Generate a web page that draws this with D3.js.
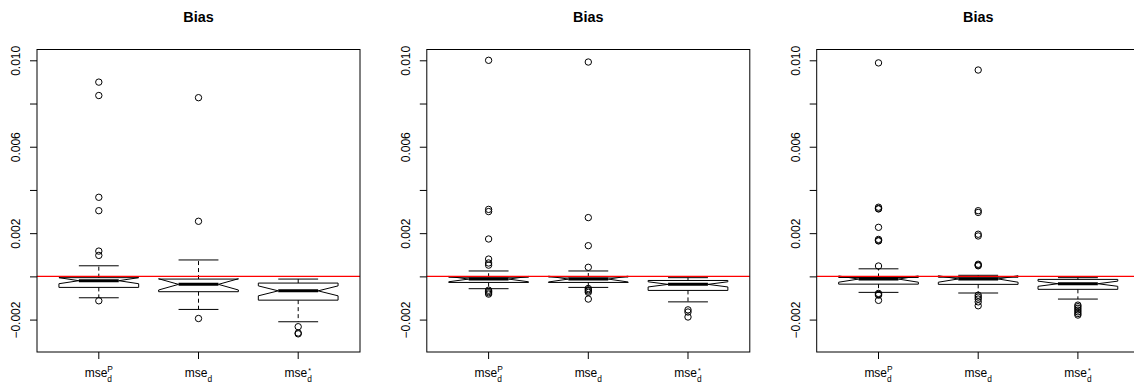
<!DOCTYPE html>
<html>
<head>
<meta charset="utf-8">
<script src="https://cdn.jsdelivr.net/npm/d3@7"></script>
<style>
  body { margin: 0; background: #fff; }
  text { font-family: "Liberation Sans", Arial, sans-serif; }
</style>
</head>
<body>
<script>
// three panels, each with three notched boxplots
const panelTitles = ["Bias", "Bias", "Bias"];
const groups = ["P", "", "*"]; // superscript of mse_d

const whiskerLow = [
  [-0.00099, -0.00153, -0.00210],
  [-0.00057, -0.00051, -0.00118],
  [-0.00074, -0.00077, -0.00105]
];
const q1 = [
  [-0.00051, -0.00071, -0.00110],
  [-0.00028, -0.00028, -0.00065],
  [-0.00036, -0.00037, -0.00060]
];
const median = [
  [-0.00020, -0.00037, -0.00067],
  [-0.000125, -0.000125, -0.00037],
  [-0.000125, -0.00012, -0.00034]
];
const q3 = [
  [-0.00006, -0.000125, -0.00031],
  [-0.00004, -0.00003, -0.00019],
  [-0.00005, -0.00004, -0.00014]
];
const whiskerHigh = [
  [0.00049, 0.00076, -0.000125],
  [0.00025, 0.00025, -0.00006],
  [0.00035, 0.00005, -0.00006]
];
const notchLow = [
  [-0.00034, -0.00063, -0.00090],
  [-0.00025, -0.00026, -0.00049],
  [-0.00027, -0.00027, -0.00046]
];
const notchHigh = [
  [-0.00006, -0.00011, -0.00044],
  [0.00000, 0.00001, -0.00025],
  [0.00002, 0.00003, -0.00022]
];
const outliers = [
  [
    [0.00899, 0.00837, 0.00366, 0.00304, 0.00117, 0.00097, -0.00113],
    [0.00827, 0.00255, -0.00195],
    [-0.00233, -0.00262, -0.00266]
  ],
  [
    [0.01000, 0.00310, 0.00300, 0.00173, 0.00080, 0.00062, 0.00052, -0.00064, -0.00070, -0.00076, -0.00082],
    [0.00992, 0.00272, 0.00142, 0.00042, -0.00056, -0.00062, -0.00068, -0.00074, -0.00105],
    [-0.00155, -0.00165, -0.00188]
  ],
  [
    [0.00988, 0.00320, 0.00314, 0.00312, 0.00227, 0.00171, 0.00166, 0.00164, 0.00048, -0.00079, -0.00083, -0.00087, -0.00111],
    [0.00955, 0.00304, 0.00296, 0.00195, 0.00187, 0.00056, 0.00052, 0.00049, -0.00087, -0.00096, -0.00105, -0.00118, -0.00136],
    [-0.00133, -0.00140, -0.00148, -0.00156, -0.00164, -0.00172, -0.00179]
  ]
];
const yTicks = [-0.002, 0, 0.002, 0.004, 0.006, 0.008, 0.010];
const yLabels = {"-0.002": "\u22120.002", "0.002": "0.002", "0.006": "0.006", "0.01": "0.010"};

const width = 1134, height = 385;
const plotTop = 49.5, plotBottom = 352, plotW = 323;
const panelLeft = [37, 426.8, 816.7];

const svg = d3.select("body").append("svg")
  .attr("width", width).attr("height", height);
svg.append("rect").attr("width", width).attr("height", height).attr("fill", "#fff");

const y = d3.scaleLinear().domain([-0.0035, 0.0105]).range([plotBottom, plotTop]);

panelTitles.forEach((title, p) => {
  const x0 = panelLeft[p];
  const x = d3.scaleLinear().domain([0.38, 3.62]).range([x0, x0 + plotW]);
  const halfW = x(1.4) - x(1);   // boxwex 0.8
  const notchW = halfW / 2;
  const g = svg.append("g");

  // title
  g.append("text")
    .attr("x", x(2)).attr("y", 21.5)
    .attr("text-anchor", "middle")
    .attr("font-weight", "bold").attr("font-size", "14.4px")
    .text(title);

  // y axis
  const yAxis = g.append("g")
    .attr("transform", `translate(${x0},0)`)
    .call(d3.axisLeft(y).tickValues(yTicks).tickSize(7).tickSizeOuter(0)
      .tickFormat(d => yLabels[String(+d.toFixed(3))] || ""));
  yAxis.select(".domain").remove();
  yAxis.selectAll("line").attr("stroke", "#000");
  yAxis.selectAll("text")
    .attr("transform", "rotate(-90)")
    .attr("x", 0).attr("y", -17).attr("dy", 0)
    .attr("text-anchor", "middle")
    .attr("font-size", "12px").attr("fill", "#000")
    .attr("font-family", "'Liberation Sans', Arial, sans-serif");

  // x ticks
  [1, 2, 3].forEach(i => {
    g.append("line")
      .attr("x1", x(i)).attr("x2", x(i))
      .attr("y1", plotBottom).attr("y2", plotBottom + 7)
      .attr("stroke", "#000");
    const lab = g.append("g");
    const main = lab.append("text").attr("font-size", "12px").attr("y", 376.5).text("mse");
    const w1 = main.node().getComputedTextLength();
    const sub = lab.append("text").attr("font-size", "8.4px").attr("x", w1).attr("y", 381.5).text("d");
    let w2 = sub.node().getComputedTextLength();
    const sup = groups[i - 1];
    if (sup) {
      const s = lab.append("text").attr("font-size", sup === "*" ? "7px" : "8.4px")
        .attr("x", w1 + (sup === "*" ? 1 : 0)).attr("y", sup === "*" ? 373 : 371.5).text(sup);
      w2 = Math.max(w2, s.node().getComputedTextLength());
    }
    lab.attr("transform", `translate(${x(i) - (w1 + w2) / 2},0)`);
  });

  // boxes
  [0, 1, 2].forEach(b => {
    const cx = x(b + 1);
    // whiskers
    [[q3[p][b], whiskerHigh[p][b]], [q1[p][b], whiskerLow[p][b]]].forEach(([a, e]) => {
      g.append("line")
        .attr("x1", cx).attr("x2", cx).attr("y1", y(a)).attr("y2", y(e))
        .attr("stroke", "#000").attr("stroke-dasharray", "4,3");
      g.append("line")
        .attr("x1", cx - notchW).attr("x2", cx + notchW).attr("y1", y(e)).attr("y2", y(e))
        .attr("stroke", "#000");
    });
    // notched box (same polygon order as R's bxp)
    const pts = [
      [cx - halfW, q1[p][b]], [cx + halfW, q1[p][b]], [cx + halfW, notchLow[p][b]],
      [cx + notchW, median[p][b]], [cx + halfW, notchHigh[p][b]], [cx + halfW, q3[p][b]],
      [cx - halfW, q3[p][b]], [cx - halfW, notchHigh[p][b]], [cx - notchW, median[p][b]],
      [cx - halfW, notchLow[p][b]]
    ];
    g.append("path")
      .attr("d", d3.line().x(d => d[0]).y(d => y(d[1]))(pts) + "Z")
      .attr("fill", "none").attr("stroke", "#000").attr("stroke-width", 1);
    g.append("line")
      .attr("x1", cx - notchW).attr("x2", cx + notchW)
      .attr("y1", y(median[p][b])).attr("y2", y(median[p][b]))
      .attr("stroke", "#000").attr("stroke-width", 3);
    // outliers
    g.selectAll(null).data(outliers[p][b]).enter().append("circle")
      .attr("cx", cx).attr("cy", d => y(d)).attr("r", 3.2)
      .attr("fill", "none").attr("stroke", "#000").attr("stroke-width", 1);
  });

  // reference line at zero
  g.append("line")
    .attr("x1", x0).attr("x2", x0 + plotW)
    .attr("y1", y(0)).attr("y2", y(0))
    .attr("stroke", "#ff0000").attr("stroke-width", 1.3);

  // frame
  g.append("rect")
    .attr("x", x0).attr("y", plotTop).attr("width", plotW).attr("height", plotBottom - plotTop)
    .attr("fill", "none").attr("stroke", "#000").attr("stroke-width", 1);
});
</script>
</body>
</html>
